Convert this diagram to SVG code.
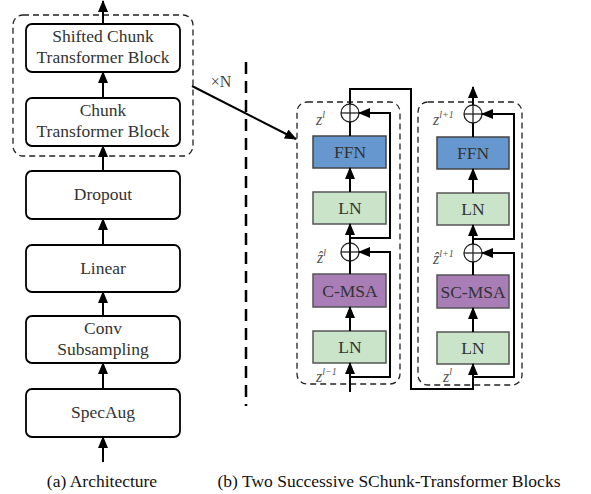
<svg xmlns="http://www.w3.org/2000/svg" width="591" height="494" viewBox="0 0 591 494">
<defs>
<marker id="ah" markerUnits="userSpaceOnUse" markerWidth="12" markerHeight="10" viewBox="0 0 12 10" refX="11" refY="5" orient="auto">
<path d="M0,0 L12,5 L0,10 z" fill="#000"/>
</marker>
</defs>
<style>
.box{fill:#fff;stroke:#000;stroke-width:1.8}
.t{font-family:'Liberation Serif',Tinos,'Times New Roman','DejaVu Serif',serif;font-size:17.5px;fill:#333;text-anchor:middle}
.cap{font-family:'Liberation Serif',Tinos,'Times New Roman','DejaVu Serif',serif;font-size:17.5px;fill:#111;text-anchor:middle}
.ln{fill:#c9e4c8;stroke:#555;stroke-width:1.5}
.ffn{fill:#6698cf;stroke:#444;stroke-width:1.5}
.msa{fill:#a97db6;stroke:#555;stroke-width:1.5}
.dash{fill:none;stroke:#222;stroke-width:1.3;stroke-dasharray:6 4}
.c{fill:none;stroke:#000;stroke-width:2}
.a{fill:none;stroke:#000;stroke-width:2;marker-end:url(#ah)}
.plus{fill:#fff;stroke:#222;stroke-width:1.3}
.lab{font-family:'Liberation Serif',Tinos,'Times New Roman','DejaVu Serif',serif;font-style:italic;font-size:16px;fill:#555}
.sup{font-size:10px}
.xn{font-family:'Liberation Serif',Tinos,'Times New Roman','DejaVu Serif',serif;font-size:16px;fill:#444;text-anchor:middle}
</style>

<g id="arch-group">
<rect x="13" y="15" width="180" height="141" rx="10" class="dash"/>
</g>
<g id="shifted-chunk"><rect x="26" y="24" width="154" height="48" rx="6" class="box"/><text class="t" x="103" y="42">Shifted Chunk</text><text class="t" x="103" y="63">Transformer Block</text></g>
<g id="chunk"><rect x="26" y="98" width="154" height="48" rx="6" class="box"/><text class="t" x="103" y="116">Chunk</text><text class="t" x="103" y="137">Transformer Block</text></g>
<g id="dropout"><rect x="26" y="171" width="154" height="48" rx="6" class="box"/><text class="t" x="103" y="200">Dropout</text></g>
<g id="linear"><rect x="26" y="245" width="154" height="47" rx="6" class="box"/><text class="t" x="103" y="274">Linear</text></g>
<g id="conv"><rect x="26" y="316" width="154" height="47" rx="6" class="box"/><text class="t" x="103" y="334">Conv</text><text class="t" x="103" y="355">Subsampling</text></g>
<g id="specaug"><rect x="26" y="389" width="154" height="48" rx="6" class="box"/><text class="t" x="103" y="418">SpecAug</text></g>

<g id="block1">
<rect x="297" y="102" width="103" height="282" rx="10" class="dash"/>
<rect x="313" y="136" width="73" height="32" class="ffn"/><text class="t" x="350" y="158">FFN</text>
<rect x="313" y="192" width="73" height="32" class="ln"/><text class="t" x="350" y="214">LN</text>
<rect x="313" y="274" width="73" height="33" class="msa"/><text class="t" x="350" y="297">C-MSA</text>
<rect x="313" y="331" width="73" height="32" class="ln"/><text class="t" x="350" y="353">LN</text>
<circle cx="350" cy="113" r="9" class="plus"/><line x1="341" y1="113" x2="359" y2="113" stroke="#222" stroke-width="1.3"/>
<circle cx="350" cy="252" r="9" class="plus"/><line x1="341" y1="252" x2="359" y2="252" stroke="#222" stroke-width="1.3"/>
<text class="lab" x="316" y="125">z<tspan class="sup" dy="-7">l</tspan></text>
<text class="lab" x="317" y="263">ẑ<tspan class="sup" dy="-7">l</tspan></text>
<text class="lab" x="316" y="382">z<tspan class="sup" dy="-7">l−1</tspan></text>
</g>

<g id="block2">
<rect x="418" y="102" width="104" height="283" rx="10" class="dash"/>
<rect x="437" y="137" width="72" height="32" class="ffn"/><text class="t" x="473" y="159">FFN</text>
<rect x="437" y="193" width="72" height="32" class="ln"/><text class="t" x="473" y="215">LN</text>
<rect x="437" y="275" width="72" height="33" class="msa"/><text class="t" x="473" y="298">SC-MSA</text>
<rect x="437" y="332" width="72" height="32" class="ln"/><text class="t" x="473" y="354">LN</text>
<circle cx="473" cy="114" r="9" class="plus"/><line x1="464" y1="114" x2="482" y2="114" stroke="#222" stroke-width="1.3"/>
<circle cx="473" cy="253" r="9" class="plus"/><line x1="464" y1="253" x2="482" y2="253" stroke="#222" stroke-width="1.3"/>
<text class="lab" x="433" y="125">z<tspan class="sup" dy="-7">l+1</tspan></text>
<text class="lab" x="433" y="264">ẑ<tspan class="sup" dy="-7">l+1</tspan></text>
<text class="lab" x="443" y="382">z<tspan class="sup" dy="-7">l</tspan></text>
</g>

<g id="connectors">
<line x1="103" y1="462" x2="103" y2="437" class="a"/>
<line x1="103" y1="389" x2="103" y2="363" class="a"/>
<line x1="103" y1="316" x2="103" y2="292" class="a"/>
<line x1="103" y1="245" x2="103" y2="219" class="a"/>
<line x1="103" y1="171" x2="103" y2="146" class="a"/>
<line x1="103" y1="98" x2="103" y2="72" class="a"/>
<line x1="103" y1="24" x2="103" y2="1" class="a"/>
<line x1="246" y1="62" x2="246" y2="406" stroke="#000" stroke-width="2.5" stroke-dasharray="12 7"/>
<line x1="192" y1="86" x2="296" y2="139" class="a"/>
<text class="xn" x="221" y="87">×N</text>
<line x1="350" y1="392" x2="350" y2="363" class="a"/>
<polyline points="350,377 390,377 390,252 359,252" class="a"/>
<line x1="350" y1="331" x2="350" y2="307" class="a"/>
<line x1="350" y1="274" x2="350" y2="243" class="c"/>
<line x1="350" y1="243" x2="350" y2="224" class="a"/>
<line x1="350" y1="243" x2="350" y2="261" stroke="#222" stroke-width="1.3"/>
<polyline points="350,238 390,238 390,113 359,113" class="a"/>
<line x1="350" y1="192" x2="350" y2="168" class="a"/>
<line x1="350" y1="136" x2="350" y2="122" class="c"/>
<line x1="350" y1="104" x2="350" y2="122" stroke="#222" stroke-width="1.3"/>
<polyline points="350,104 350,89 411,89 411,389 473,389" class="c"/>
<line x1="473" y1="390" x2="473" y2="364" class="a"/>
<polyline points="473,377 514,377 514,253 482,253" class="a"/>
<line x1="473" y1="332" x2="473" y2="308" class="a"/>
<line x1="473" y1="275" x2="473" y2="262" class="c"/>
<line x1="473" y1="244" x2="473" y2="262" stroke="#222" stroke-width="1.3"/>
<line x1="473" y1="244" x2="473" y2="225" class="a"/>
<polyline points="473,239 514,239 514,114 482,114" class="a"/>
<line x1="473" y1="193" x2="473" y2="169" class="a"/>
<line x1="473" y1="137" x2="473" y2="123" class="c"/>
<line x1="473" y1="105" x2="473" y2="123" stroke="#222" stroke-width="1.3"/>
<line x1="473" y1="105" x2="473" y2="87" class="a"/>
</g>

<g id="captions">
<text class="cap" x="102" y="487">(a) Architecture</text>
<text class="cap" x="389" y="487">(b) Two Successive SChunk-Transformer Blocks</text>
</g>
</svg>
